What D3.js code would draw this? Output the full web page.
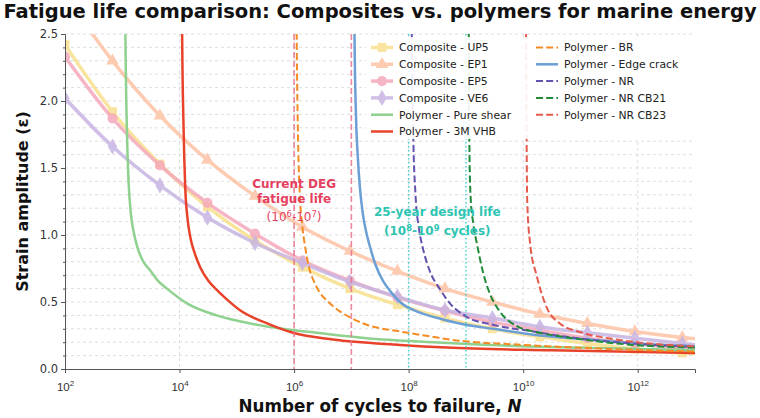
<!DOCTYPE html>
<html><head><meta charset="utf-8">
<script src="https://cdn.jsdelivr.net/npm/d3@7"></script>
<style>
body{margin:0;background:#fff;}
svg{display:block;font-family:"DejaVu Sans",sans-serif;}
</style></head>
<body><svg id="chart" width="760" height="418"></svg>
<script>
// ---------- data ----------
const compositeLogN = [2, 2.829, 3.658, 4.487, 5.317, 6.146, 6.975, 7.804, 8.633, 9.462, 10.291, 11.121, 11.950, 12.779, 13];
const up5Strain = [2.42, 1.92, 1.53, 1.21, 0.96, 0.76, 0.60, 0.48, 0.38, 0.30, 0.24, 0.19, 0.15, 0.12, 0.115];
const ep1Strain = [2.79, 2.30, 1.89, 1.56, 1.29, 1.06, 0.88, 0.73, 0.60, 0.50, 0.41, 0.34, 0.28, 0.235, 0.225];
const ep5Strain = [2.33, 1.87, 1.52, 1.24, 1.01, 0.81, 0.66, 0.535, 0.435, 0.35, 0.29, 0.23, 0.19, 0.155, 0.15];
const ve6Strain = [2.02, 1.66, 1.37, 1.13, 0.94, 0.79, 0.65, 0.54, 0.44, 0.38, 0.315, 0.27, 0.23, 0.19, 0.18];

const pureShearLogN = [3.04, 3.055, 3.08, 3.11, 3.15, 3.20, 3.27, 3.37, 3.48, 3.62, 3.78, 4.13, 4.65, 5.23, 5.80, 6.40, 7.27, 8.42, 10.0, 11.5, 13.0];
const pureShearStrain = [3.5, 2.5, 1.8, 1.4, 1.16, 1.02, 0.90, 0.80, 0.74, 0.66, 0.60, 0.49, 0.40, 0.34, 0.30, 0.27, 0.23, 0.20, 0.17, 0.155, 0.14];
const vhbLogN = [4.03, 4.045, 4.07, 4.10, 4.14, 4.19, 4.26, 4.36, 4.50, 4.65, 4.85, 5.05, 5.53, 5.98, 6.68, 7.85, 8.67, 10.5, 13.0];
const vhbStrain = [3.5, 2.5, 1.8, 1.35, 1.12, 0.98, 0.87, 0.76, 0.66, 0.59, 0.51, 0.44, 0.34, 0.27, 0.22, 0.18, 0.16, 0.14, 0.12];
const brLogN = [6.03, 6.045, 6.07, 6.10, 6.14, 6.19, 6.26, 6.35, 6.45, 6.60, 6.80, 7.0, 7.27, 7.85, 8.42, 8.72, 10.0, 11.5, 13.0];
const brStrain = [3.5, 2.5, 1.7, 1.3, 1.08, 0.92, 0.76, 0.65, 0.57, 0.50, 0.43, 0.38, 0.33, 0.28, 0.24, 0.22, 0.18, 0.15, 0.13];
const edgeLogN = [7.04, 7.055, 7.08, 7.11, 7.15, 7.20, 7.26, 7.32, 7.42, 7.55, 7.70, 7.85, 8.2, 8.6, 9.0, 9.47, 10.29, 11.16, 11.98, 13.0];
const edgeStrain = [3.5, 2.5, 1.9, 1.6, 1.35, 1.16, 1.02, 0.92, 0.78, 0.66, 0.57, 0.50, 0.42, 0.37, 0.33, 0.30, 0.25, 0.22, 0.19, 0.17];
const nrLogN = [8.04, 8.055, 8.08, 8.12, 8.18, 8.25, 8.37, 8.54, 8.72, 9.01, 9.47, 10.17, 10.76, 11.91, 13.0];
const nrStrain = [3.5, 2.5, 1.75, 1.3, 1.05, 0.90, 0.73, 0.60, 0.49, 0.39, 0.33, 0.28, 0.24, 0.19, 0.165];
const cb21LogN = [9.04, 9.05, 9.06, 9.08, 9.13, 9.19, 9.30, 9.42, 9.59, 9.89, 10.29, 10.87, 11.91, 13.0];
const cb21Strain = [3.5, 2.5, 1.7, 1.3, 1.08, 0.94, 0.72, 0.56, 0.43, 0.32, 0.27, 0.23, 0.18, 0.16];
const cb23LogN = [10.04, 10.05, 10.06, 10.07, 10.12, 10.24, 10.41, 10.64, 11.04, 11.63, 12.21, 13.0];
const cb23Strain = [3.5, 2.5, 1.7, 1.26, 0.94, 0.69, 0.46, 0.34, 0.27, 0.22, 0.19, 0.17];

const xTickExps = [2, 4, 6, 8, 10, 12];
const yTicks = [0.0, 0.5, 1.0, 1.5, 2.0, 2.5];
const degRange = [1e6, 1e7];
const designRange = [1e8, 1e9];

// ---------- series config ----------
const series = [
  {name:"Composite - UP5", logN:compositeLogN, s:up5Strain, color:"#f8e08e", w:3.5, dash:null, marker:"square", opacity:0.85},
  {name:"Composite - EP1", logN:compositeLogN, s:ep1Strain, color:"#fdc3a5", w:3.5, dash:null, marker:"triangle", opacity:0.85},
  {name:"Composite - EP5", logN:compositeLogN, s:ep5Strain, color:"#f5a9bb", w:3.5, dash:null, marker:"circle", opacity:0.85},
  {name:"Composite - VE6", logN:compositeLogN, s:ve6Strain, color:"#c7b5e3", w:3.5, dash:null, marker:"diamond", opacity:0.85},
  {name:"Polymer - Pure shear", logN:pureShearLogN, s:pureShearStrain, color:"#8fd18e", w:2.5, dash:null, opacity:1},
  {name:"Polymer - 3M VHB", logN:vhbLogN, s:vhbStrain, color:"#e8432a", w:2.5, dash:null, opacity:1},
  {name:"Polymer - BR", logN:brLogN, s:brStrain, color:"#f58b23", w:2, dash:"7,3.2", opacity:1},
  {name:"Polymer - Edge crack", logN:edgeLogN, s:edgeStrain, color:"#6b9fd6", w:2.5, dash:null, opacity:1},
  {name:"Polymer - NR", logN:nrLogN, s:nrStrain, color:"#6551b0", w:2, dash:"7,3.2", opacity:1},
  {name:"Polymer - NR CB21", logN:cb21LogN, s:cb21Strain, color:"#1f8a38", w:2, dash:"7,3.2", opacity:1},
  {name:"Polymer - NR CB23", logN:cb23LogN, s:cb23Strain, color:"#e55a4b", w:2, dash:"7,3.2", opacity:1}
];

// ---------- layout ----------
const svg = d3.select("#chart");
const L = 65, R = 695, T = 34, B = 369;
const x = d3.scaleLog().domain([1e2, 1e13]).range([L, R]);
const y = d3.scaleLinear().domain([0, 2.5]).range([B, T]);

svg.append("defs").append("clipPath").attr("id","clip")
  .append("rect").attr("x",L).attr("y",T).attr("width",R-L).attr("height",B-T);

// grid
const gGrid = svg.append("g");
gGrid.selectAll("line.h").data(d3.range(1, 26).map(i => i/10)).join("line")
  .attr("x1",L).attr("x2",R).attr("y1",d=>y(d)).attr("y2",d=>y(d))
  .attr("stroke","#d0d0d0").attr("stroke-width",0.7).attr("stroke-dasharray","3,3");
gGrid.selectAll("line.v").data(xTickExps.slice(1)).join("line")
  .attr("x1",d=>x(Math.pow(10,d))).attr("x2",d=>x(Math.pow(10,d))).attr("y1",T).attr("y2",B)
  .attr("stroke","#d0d0d0").attr("stroke-width",0.7).attr("stroke-dasharray","3,3");

// curves
const plot = svg.append("g").attr("clip-path","url(#clip)");
const line = d3.line().x(d=>x(Math.pow(10,d[0]))).y(d=>y(d[1])).curve(d3.curveMonotoneX);
const symbolMap = {square:d3.symbolSquare, triangle:d3.symbolTriangle, circle:d3.symbolCircle, diamond:d3.symbolDiamond};
const sizeMap = {square:80, triangle:70, circle:80, diamond:75};

series.forEach(sr => {
  const pts = sr.logN.map((v,i)=>[v, sr.s[i]]);
  const g = plot.append("g").attr("opacity", sr.opacity);
  g.append("path").datum(pts).attr("d", line).attr("fill","none")
    .attr("stroke", sr.color).attr("stroke-width", sr.w)
    .attr("stroke-dasharray", sr.dash).attr("stroke-linecap", sr.dash ? "butt" : "round");
  if (sr.marker) {
    g.selectAll("path.m").data(pts.slice(0, 14)).join("path")
      .attr("transform", d=>`translate(${x(Math.pow(10,d[0]))},${y(d[1])})`)
      .attr("d", d3.symbol().type(symbolMap[sr.marker]).size(sizeMap[sr.marker]))
      .attr("fill", sr.color);
  }
});

// reference lines
const gRef = svg.append("g");
gRef.selectAll("line.deg").data(degRange).join("line")
  .attr("x1",d=>x(d)).attr("x2",d=>x(d)).attr("y1",T).attr("y2",B)
  .attr("stroke","#e8738d").attr("stroke-width",1.6).attr("stroke-dasharray","6,3").attr("opacity",0.85);
gRef.selectAll("line.des").data(designRange).join("line")
  .attr("x1",d=>x(d)).attr("x2",d=>x(d)).attr("y1",T).attr("y2",B)
  .attr("stroke","#40d0d0").attr("stroke-width",1.5).attr("stroke-dasharray","1.5,2.5");

// annotations
function supText(g, parts, opts) {
  const t = g.append("text").attr("x",opts.x).attr("y",opts.y).attr("text-anchor","middle")
    .attr("fill",opts.color).attr("font-size",opts.size).attr("font-weight",opts.weight);
  parts.forEach(p => {
    if (p.sup) t.append("tspan").attr("dy",-4).attr("font-size",opts.size*0.7).text(p.t);
    else if (p.after) t.append("tspan").attr("dy",4).text(p.t);
    else t.append("tspan").text(p.t);
  });
  return t;
}
const degX = x(1e6);
const gAnn = svg.append("g");
gAnn.append("text").attr("x",degX).attr("y",188).attr("text-anchor","middle").attr("fill","#e5405e")
  .attr("font-size",12).attr("font-weight","bold").text("Current DEG");
gAnn.append("text").attr("x",degX).attr("y",203).attr("text-anchor","middle").attr("fill","#e5405e")
  .attr("font-size",12).attr("font-weight","bold").text("fatigue life");
supText(gAnn, [{t:"(10"},{t:"6",sup:true},{t:"-10",after:true},{t:"7",sup:true},{t:")",after:true}],
  {x:degX, y:221, color:"#e5405e", size:12, weight:"normal"});
const desX = x(Math.sqrt(1e8*1e9));
gAnn.append("text").attr("x",desX).attr("y",216).attr("text-anchor","middle").attr("fill","#2ec4b2")
  .attr("font-size",12).attr("font-weight","bold").text("25-year design life");
supText(gAnn, [{t:"(10"},{t:"8",sup:true},{t:"-10",after:true},{t:"9",sup:true},{t:" cycles)",after:true}],
  {x:desX, y:235, color:"#2ec4b2", size:12, weight:"bold"});

// axes
const gx = svg.append("g").attr("transform",`translate(0,${B})`)
  .call(d3.axisBottom(x).tickValues(xTickExps.map(e=>Math.pow(10,e))).tickSize(4).tickPadding(5).tickFormat(""));
gx.selectAll(".tick").each(function(d){
  const e = Math.round(Math.log10(d));
  const t = d3.select(this).append("text").attr("y",22).attr("fill","#333").attr("font-size",11.5).attr("text-anchor","middle");
  t.append("tspan").text("10");
  t.append("tspan").attr("dy",-5).attr("font-size",8).text(e);
});
const gy = svg.append("g").attr("transform",`translate(${L},0)`)
  .call(d3.axisLeft(y).tickValues(yTicks).tickSize(4).tickPadding(3).tickFormat(d3.format(".1f")));
gy.selectAll(".tick text").attr("fill","#333").attr("font-size",11.5).attr("font-family","DejaVu Sans");
const gyMinor = svg.append("g").attr("transform",`translate(${L},0)`)
  .call(d3.axisLeft(y).tickValues(d3.range(0,26).filter(i=>i%5!==0).map(i=>i/10)).tickSize(2).tickFormat(""));
[gx, gy, gyMinor].forEach(g => {
  g.select(".domain").attr("stroke","#555");
  g.selectAll(".tick line").attr("stroke","#555");
});
gyMinor.select(".domain").remove();

// labels
svg.append("text").attr("x",380).attr("y",18).attr("text-anchor","middle").attr("font-size",19.5)
  .attr("font-weight","bold").attr("fill","#111").text("Fatigue life comparison: Composites vs. polymers for marine energy");
const xl = svg.append("text").attr("x",(L+R)/2).attr("y",412).attr("text-anchor","middle").attr("font-size",16.8)
  .attr("font-weight","bold").attr("fill","#111");
xl.append("tspan").text("Number of cycles to failure, ");
xl.append("tspan").attr("font-style","italic").text("N");
svg.append("text").attr("transform",`translate(28,${(T+B)/2}) rotate(-90)`).attr("text-anchor","middle")
  .attr("font-size",16).attr("font-weight","bold").attr("fill","#111").text("Strain amplitude (ε)");

// legend
const lg = svg.append("g");
lg.append("rect").attr("x",366).attr("y",37).attr("width",330).attr("height",102).attr("fill","#fff").attr("opacity",0.9);
const colX = [371, 536], rowY0 = 47.5, rowH = 16.8;
series.forEach((sr,i) => {
  const col = i < 6 ? 0 : 1, row = i < 6 ? i : i - 6;
  const gx0 = colX[col], gy0 = rowY0 + row*rowH;
  const g = lg.append("g").attr("opacity", sr.opacity);
  g.append("line").attr("x1",gx0).attr("x2",gx0+22).attr("y1",gy0).attr("y2",gy0)
    .attr("stroke",sr.color).attr("stroke-width",sr.w).attr("stroke-dasharray",sr.dash);
  if (sr.marker) g.append("path").attr("transform",`translate(${gx0+11},${gy0})`)
    .attr("d", d3.symbol().type(symbolMap[sr.marker]).size(sizeMap[sr.marker])).attr("fill",sr.color);
  lg.append("text").attr("x",gx0+28).attr("y",gy0+3.8).attr("font-size",10.8).attr("fill","#222").text(sr.name);
});
</script>
</body></html>
